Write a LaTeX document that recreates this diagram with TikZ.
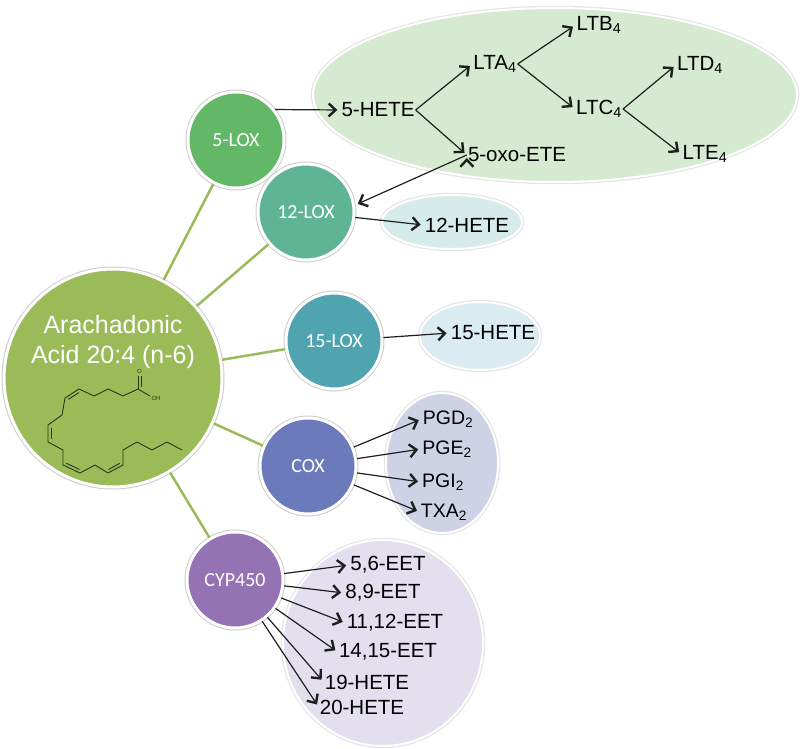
\documentclass[tikz,border=0pt]{standalone}
\usepackage{fontspec}
\setmainfont{Liberation Sans}
\newfontfamily\calibri{Carlito}
\usetikzlibrary{arrows.meta}

\definecolor{aagreen}{RGB}{155,187,89}
\definecolor{loxfive}{RGB}{98,184,102}
\definecolor{loxtwelve}{RGB}{96,180,150}
\definecolor{loxfifteen}{RGB}{79,164,176}
\definecolor{coxblue}{RGB}{106,122,186}
\definecolor{cyppurple}{RGB}{149,114,180}
\definecolor{ltpool}{RGB}{214,234,209}
\definecolor{hetepool}{RGB}{214,236,234}
\definecolor{fifteenpool}{RGB}{218,236,242}
\definecolor{pgpool}{RGB}{206,210,228}
\definecolor{eetpool}{RGB}{228,223,239}
\definecolor{bondcol}{RGB}{45,55,25}

\begin{document}
\begin{tikzpicture}[x=1pt,y=-1pt,
    enzyme/.style={circle,fill=#1,draw=white,line width=3pt,minimum size=96pt,inner sep=0pt,text=white,font=\calibri\fontsize{20}{24}\selectfont,preaction={draw=black!20,line width=5pt}},
    product/.style={inner sep=1pt,font=\fontsize{20.5}{24}\selectfont},
    pg/.style={inner sep=1pt,font=\fontsize{19.5}{23}\selectfont},
    branch/.style={draw=aagreen,line width=2.5pt},
    arr/.style={-{Straight Barb[length=7pt,width=13pt,line width=2.4pt]},line width=1.2pt,draw=black!88,shorten >=3pt},
    pool/.style={fill=#1,draw=white,line width=2pt,preaction={draw=black!10,line width=4.5pt}},
    bond/.style={draw=bondcol,line width=0.9pt,line join=round}]
    \useasboundingbox (0,0) rectangle (800,749);

    % product pools
    \path[pool=ltpool] (555,95) ellipse [x radius=242, y radius=87];
    \path[pool=hetepool] (452,222) ellipse [x radius=70, y radius=27];
    \path[pool=fifteenpool] (480,336) ellipse [x radius=60, y radius=34];
    \path[pool=pgpool] (442,463) ellipse [x radius=56, y radius=70];
    \path[pool=eetpool] (383,643) ellipse [x radius=100, y radius=103];

    % arachidonic acid and enzymes
    \node[enzyme=aagreen, minimum size=218pt] at (113, 378) (aa) {};
    \node[text=white, align=center, font=\fontsize{25}{30}\selectfont] at (113, 342) (aaname) {Arachadonic\\Acid 20:4 (n-6)};
    \node[enzyme=loxfive] at (236, 140) (lox5) {5-LOX};
    \node[enzyme=loxtwelve] at (306, 212) (lox12) {12-LOX};
    \node[enzyme=loxfifteen] at (334, 341) (lox15) {15-LOX};
    \node[enzyme=coxblue] at (308, 466) (cox) {COX};
    \node[enzyme=cyppurple] at (235, 580) (cyp) {CYP450};

    \path[branch]
        (aa) edge (lox5)
        (aa) edge (lox12)
        (aa) edge (lox15)
        (aa) edge (cox)
        (aa) edge (cyp)
        ;

    % products
    \node[product] at (378, 110) (hete5) {5-HETE};
    \node[product] at (495, 64) (lta4) {LTA\textsubscript{4}};
    \node[product] at (517, 155) (oxoete) {5-oxo-ETE};
    \node[product] at (599, 25) (ltb4) {LTB\textsubscript{4}};
    \node[product] at (599, 109) (ltc4) {LTC\textsubscript{4}};
    \node[product] at (700, 65) (ltd4) {LTD\textsubscript{4}};
    \node[product] at (705, 154) (lte4) {LTE\textsubscript{4}};
    \node[product] at (467, 225) (hete12) {12-HETE};
    \node[product] at (493, 333) (hete15) {15-HETE};
    \node[pg] at (448, 419) (pgd2) {PGD\textsubscript{2}};
    \node[pg] at (447, 449) (pge2) {PGE\textsubscript{2}};
    \node[pg] at (443, 482) (pgi2) {PGI\textsubscript{2}};
    \node[pg] at (444, 512) (txa2) {TXA\textsubscript{2}};
    \node[product] at (388, 565) (eet56) {5,6-EET};
    \node[product] at (383, 593) (eet89) {8,9-EET};
    \node[product] at (395, 623) (eet1112) {11,12-EET};
    \node[product] at (388, 652) (eet1415) {14,15-EET};
    \node[product] at (367, 682) (hete19) {19-HETE};
    \node[product] at (362, 707) (hete20) {20-HETE};

    \path[arr]
        (lox5.38) edge (hete5.west)
        (hete5.east) edge (lta4.west)
        (hete5.east) edge (oxoete.west)
        (lta4.east) edge (ltb4.west)
        (lta4.east) edge (ltc4.west)
        (ltc4.east) edge (ltd4.west)
        (ltc4.east) edge (lte4.west)
        (oxoete.west) edge (lox12.8)
        (lox12) edge (hete12.west)
        (lox15) edge (hete15.west)
        (cox) edge (pgd2.west)
        (cox) edge (pge2.west)
        (cox) edge (pgi2.west)
        (cox) edge (txa2.west)
        (cyp) edge (eet56.west)
        (cyp) edge (eet89.west)
        (cyp) edge (eet1112.west)
        (cyp) edge (eet1415.west)
        (cyp) edge (hete19.west)
        (cyp) edge (hete20.west)
        ;

    % structure of arachidonic acid
    \draw[bond] (138,389) -- (123,396) -- (108,389) -- (94,396) -- (79,389) -- (65,398) -- (62,415) -- (48,425) -- (48,442) -- (63,450) -- (63,465) -- (80,473) -- (95,465) -- (108,473) -- (123,465) -- (123,450) -- (137,442) -- (152,450) -- (167,442) -- (182,450);
    \draw[bond] (78.9,392.6) -- (68.3,399.4);
    \draw[bond] (51,428) -- (51,439);
    \draw[bond] (66.1,463.2) -- (79.5,469.4);
    \draw[bond] (108.4,469.5) -- (119.8,463.3);
    \draw[bond] (138,389) -- (138,376);
    \draw[bond] (141,387) -- (141,376);
    \draw[bond] (138,389) -- (150,396);
    \node[text=bondcol, inner sep=0pt, font=\fontsize{6}{7}\selectfont] at (139.5, 371) (oxy) {O};
    \node[text=bondcol, inner sep=0pt, font=\fontsize{6}{7}\selectfont] at (156, 398) (hydroxy) {OH};
\end{tikzpicture}
\end{document}
